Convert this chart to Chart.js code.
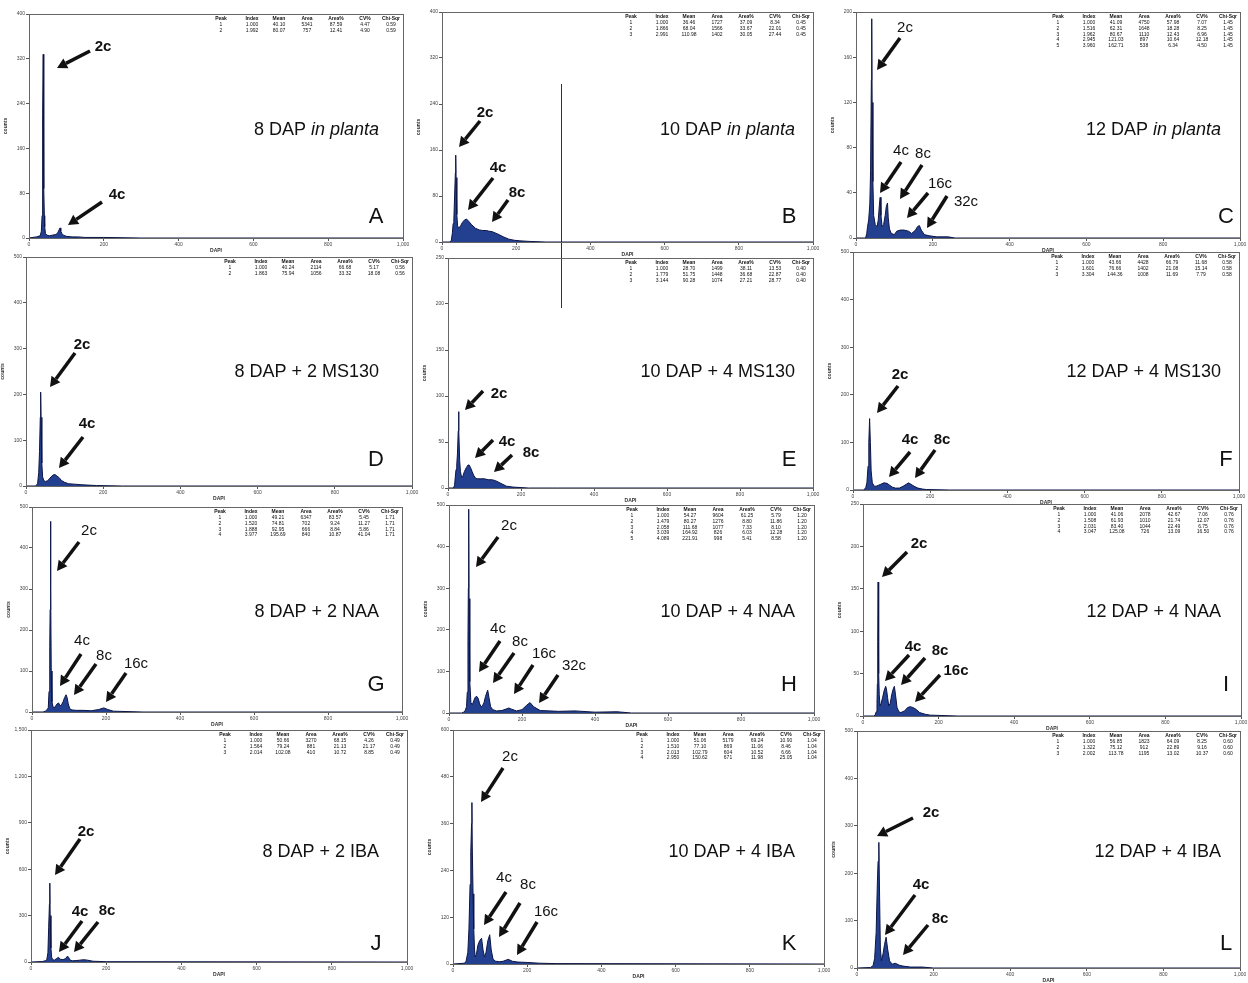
<!DOCTYPE html>
<html>
<head>
<meta charset="utf-8">
<script src="https://cdn.jsdelivr.net/npm/chart.js@4/dist/chart.umd.min.js"></script>
<style>
  html, body { margin: 0; padding: 0; background: #fff; width: 1248px; height: 983px; overflow: hidden; }
  canvas { position: absolute; }
  #stray { position: absolute; left: 561px; top: 84px; width: 1px; height: 224px; background: #333; }
</style>
</head>
<body>
<div id="stray"></div>
<script>
// Datos (DAPI = canal, counts = núcleos)
const dapiA = [0, 20, 30, 33, 35, 36, 37, 38, 39, 40, 41, 42, 44, 48, 55, 62, 70, 76, 80, 83, 85, 88, 92, 100, 115, 130, 150, 200, 300, 500, 1000]
const countsA = [0, 2, 4, 12, 40, 152, 220, 328, 240, 88, 40, 20, 8, 5, 4, 5, 6, 8, 14, 18, 12, 8, 5, 3, 2, 2, 1, 1, 0, 0, 0]

const dapiB = [0, 20, 25, 28, 30, 32, 34, 36, 37, 38, 40, 42, 45, 50, 55, 60, 66, 72, 80, 90, 100, 110, 120, 125, 135, 150, 165, 180, 195, 210, 237, 280, 400, 1000]
const countsB = [0, 0, 2, 16, 32, 40, 80, 120, 151, 112, 48, 28, 24, 28, 34, 38, 40, 36, 30, 24, 21, 20, 20, 19, 18, 14, 9, 5, 3, 2, 1, 0, 0, 0]

const dapiC = [0, 25, 28, 30, 33, 36, 38, 40, 41, 42, 44, 46, 50, 55, 58, 61, 63, 65, 68, 72, 76, 79, 82, 84, 87, 92, 100, 106, 115, 125, 137, 145, 155, 160, 165, 170, 178, 190, 210, 240, 258, 300, 1000]
const countsC = [0, 0, 4, 10, 16, 30, 60, 140, 194, 120, 50, 20, 12, 10, 16, 30, 36, 20, 10, 12, 20, 28, 31, 18, 8, 4, 3, 6, 7, 7, 6, 4, 7, 10, 11, 7, 3, 2, 1, 1, 0, 0, 0]

const dapiD = [0, 25, 30, 33, 35, 37, 38, 39, 41, 43, 46, 50, 55, 60, 65, 70, 75, 80, 86, 92, 100, 110, 125, 140, 160, 183, 250, 1000]
const countsD = [0, 0, 5, 30, 75, 150, 205, 150, 50, 20, 12, 10, 11, 15, 20, 24, 25, 22, 18, 12, 8, 5, 4, 3, 2, 1, 0, 0]

const dapiE = [0, 15, 18, 20, 22, 24, 26, 28, 29, 30, 32, 34, 37, 40, 45, 50, 55, 58, 62, 66, 70, 75, 80, 90, 100, 110, 120, 130, 140, 150, 160, 178, 220, 300, 1000]
const countsE = [0, 0, 3, 12, 20, 25, 38, 62, 83, 62, 30, 18, 12, 12, 18, 22, 25, 25, 22, 18, 14, 11, 10, 10, 10, 9, 9, 8, 6, 4, 2, 1, 0, 0, 0]

const dapiF = [0, 28, 33, 36, 39, 41, 43, 45, 47, 50, 55, 60, 66, 72, 80, 88, 95, 102, 110, 120, 130, 138, 144, 150, 158, 168, 180, 190, 250, 1000]
const countsF = [0, 0, 5, 15, 50, 100, 150, 100, 40, 15, 8, 8, 10, 12, 15, 14, 10, 6, 4, 4, 8, 12, 15, 12, 8, 4, 2, 1, 0, 0]

const dapiG = [0, 30, 36, 40, 44, 46, 48, 49, 50, 51, 52, 54, 57, 60, 64, 68, 72, 76, 80, 84, 88, 92, 95, 98, 102, 108, 120, 140, 160, 180, 194, 205, 220, 300, 1000]
const countsG = [0, 0, 2, 5, 10, 50, 160, 250, 465, 300, 100, 25, 12, 10, 15, 20, 22, 15, 18, 25, 35, 42, 35, 20, 8, 5, 4, 4, 3, 6, 10, 6, 2, 0, 0]

const dapiH = [0, 35, 40, 44, 48, 50, 52, 53, 54, 55, 57, 60, 64, 68, 72, 76, 80, 84, 88, 92, 96, 100, 106, 110, 114, 120, 130, 145, 158, 164, 172, 185, 200, 212, 222, 232, 250, 300, 345, 400, 460, 500, 1000]
const countsH = [0, 0, 2, 5, 15, 50, 175, 300, 490, 275, 75, 25, 20, 30, 38, 40, 35, 22, 15, 18, 25, 40, 55, 35, 15, 8, 5, 6, 10, 12, 9, 5, 8, 18, 25, 15, 6, 4, 5, 2, 3, 0, 0]

const dapiI = [0, 28, 32, 35, 37, 38, 39, 40, 41, 42, 43, 45, 48, 52, 56, 60, 62, 65, 68, 72, 76, 80, 83, 86, 90, 95, 100, 110, 118, 125, 132, 140, 150, 165, 178, 250, 1000]
const countsI = [0, 0, 1, 5, 15, 38, 88, 158, 100, 50, 25, 12, 15, 22, 30, 35, 32, 22, 12, 15, 25, 32, 35, 25, 10, 5, 4, 6, 10, 11, 10, 8, 4, 2, 1, 0, 0]

const dapiJ = [0, 30, 38, 42, 45, 47, 49, 50, 51, 53, 55, 58, 62, 68, 73, 78, 85, 92, 97, 100, 104, 110, 120, 130, 140, 150, 165, 200, 1000]
const countsJ = [0, 3, 8, 15, 60, 225, 375, 510, 300, 90, 30, 15, 12, 22, 30, 18, 15, 22, 38, 30, 12, 8, 9, 12, 15, 12, 5, 2, 0]

const dapiK = [0, 30, 35, 40, 43, 46, 48, 50, 51, 52, 54, 56, 58, 60, 63, 67, 72, 77, 81, 85, 89, 94, 99, 103, 108, 115, 125, 135, 149, 160, 175, 200, 234, 280, 1000]
const countsK = [0, 2, 6, 30, 90, 204, 288, 360, 414, 300, 180, 90, 36, 18, 24, 48, 60, 66, 36, 18, 30, 60, 75, 36, 12, 7, 6, 7, 12, 7, 5, 4, 2, 1, 0]

const dapiL = [0, 35, 42, 46, 50, 53, 55, 57, 59, 61, 64, 68, 72, 76, 80, 85, 92, 100, 110, 120, 140, 170, 200, 1000]
const countsL = [0, 1, 5, 20, 75, 175, 225, 265, 150, 40, 15, 30, 50, 65, 40, 15, 8, 10, 6, 4, 2, 2, 0, 0]

const ticksX = [0, 200, 400, 600, 800, 1000]
const cabecera = ["Peak", "Index", "Mean", "Area", "Area%", "CV%", "Chi-Sqr"]

// Paneles: datos + decoración (posiciones en píxeles de la página)
const paneles = [
  { id: "A", x: dapiA, y: countsA, ymax: 400, step: 80, box: [29, 14, 403, 238], titulo: ["8 DAP ", "in planta"], fila: 0, col: 0, bold: true,
    flechas: [["2c", 103, 47, 90, 51, 57, 68], ["4c", 117, 195, 102, 202, 68, 225]],
    tabla: [["1", "1.000", "40.10", "5341", "87.59", "4.47", "0.59"], ["2", "1.992", "80.07", "757", "12.41", "4.90", "0.59"]] },
  { id: "B", x: dapiB, y: countsB, ymax: 400, step: 80, box: [442, 12, 813, 242], titulo: ["10 DAP ", "in planta"], fila: 0, col: 1, bold: true,
    flechas: [["2c", 485, 113, 480, 121, 459, 147], ["4c", 498, 168, 493, 178, 468, 210], ["8c", 517, 193, 508, 200, 492, 222]],
    tabla: [["1", "1.000", "36.46", "1727", "37.09", "8.34", "0.45"], ["2", "1.866", "68.04", "1566", "33.67", "22.01", "0.45"], ["3", "2.991", "110.98", "1402", "30.05", "27.44", "0.45"]] },
  { id: "C", x: dapiC, y: countsC, ymax: 200, step: 40, box: [856, 12, 1240, 238], titulo: ["12 DAP ", "in planta"], fila: 0, col: 2, bold: false,
    flechas: [["2c", 905, 28, 900, 38, 877, 70], ["4c", 901, 151, 901, 162, 880, 193], ["8c", 923, 154, 922, 165, 900, 199], ["16c", 940, 184, 928, 193, 907, 218], ["32c", 966, 202, 947, 196, 927, 228]],
    tabla: [["1", "1.000", "41.09", "4750", "57.98", "7.07", "1.45"], ["2", "1.516", "62.31", "1648", "18.28", "8.25", "1.45"], ["3", "1.962", "80.67", "1110", "12.43", "6.96", "1.45"], ["4", "2.945", "121.03", "897", "10.64", "12.18", "1.45"], ["5", "3.960", "162.71", "538", "6.34", "4.50", "1.45"]] },
  { id: "D", x: dapiD, y: countsD, ymax: 500, step: 100, box: [26, 257, 412, 486], titulo: ["8 DAP + 2 MS130"], fila: 1, col: 0, bold: true,
    flechas: [["2c", 82, 345, 75, 353, 50, 387], ["4c", 87, 424, 83, 437, 59, 468]],
    tabla: [["1", "1.000", "40.24", "2114", "66.68", "5.17", "0.56"], ["2", "1.863", "75.94", "1056", "33.32", "18.08", "0.56"]] },
  { id: "E", x: dapiE, y: countsE, ymax: 250, step: 50, box: [448, 258, 813, 488], titulo: ["10 DAP + 4 MS130"], fila: 1, col: 1, bold: true,
    flechas: [["2c", 499, 394, 483, 391, 465, 410], ["4c", 507, 442, 493, 440, 475, 458], ["8c", 531, 453, 512, 455, 494, 472]],
    tabla: [["1", "1.000", "28.70", "1499", "38.11", "13.53", "0.40"], ["2", "1.779", "51.75", "1448", "36.68", "22.87", "0.40"], ["3", "3.144", "90.28", "1074", "27.21", "28.77", "0.40"]] },
  { id: "F", x: dapiF, y: countsF, ymax: 500, step: 100, box: [853, 252, 1239, 490], titulo: ["12 DAP + 4 MS130"], fila: 1, col: 2, bold: true,
    flechas: [["2c", 900, 375, 898, 386, 877, 413], ["4c", 910, 440, 910, 452, 889, 477], ["8c", 942, 440, 935, 450, 915, 478]],
    tabla: [["1", "1.000", "43.66", "4428", "66.79", "11.68", "0.58"], ["2", "1.601", "76.66", "1402", "21.08", "15.14", "0.58"], ["3", "3.304", "144.36", "1008", "11.69", "7.79", "0.58"]] },
  { id: "G", x: dapiG, y: countsG, ymax: 500, step: 100, box: [32, 507, 402, 712], titulo: ["8 DAP + 2 NAA"], fila: 2, col: 0, bold: false,
    flechas: [["2c", 89, 531, 79, 542, 57, 571], ["4c", 82, 641, 81, 654, 60, 686], ["8c", 104, 656, 96, 664, 74, 695], ["16c", 136, 664, 126, 673, 106, 702]],
    tabla: [["1", "1.000", "49.21", "6347", "83.57", "5.45", "1.71"], ["2", "1.520", "74.81", "702", "9.24", "11.27", "1.71"], ["3", "1.888", "92.95", "666", "8.84", "5.86", "1.71"], ["4", "3.977", "195.69", "840", "10.87", "41.04", "1.71"]] },
  { id: "H", x: dapiH, y: countsH, ymax: 500, step: 100, box: [449, 505, 814, 713], titulo: ["10 DAP + 4 NAA"], fila: 2, col: 1, bold: false,
    flechas: [["2c", 509, 526, 498, 537, 476, 567], ["4c", 498, 629, 500, 641, 479, 672], ["8c", 520, 642, 514, 653, 493, 683], ["16c", 544, 654, 533, 665, 514, 694], ["32c", 574, 666, 558, 675, 539, 703]],
    tabla: [["1", "1.000", "54.27", "9604", "61.25", "5.79", "1.20"], ["2", "1.479", "80.27", "1276", "8.80", "11.86", "1.20"], ["3", "2.058", "111.68", "1077", "7.33", "8.10", "1.20"], ["4", "3.039", "164.92", "826", "6.03", "12.28", "1.20"], ["5", "4.089", "221.91", "998", "5.41", "8.58", "1.20"]] },
  { id: "I", x: dapiI, y: countsI, ymax: 250, step: 50, box: [863, 504, 1241, 716], titulo: ["12 DAP + 4 NAA"], fila: 2, col: 2, bold: true,
    flechas: [["2c", 919, 544, 907, 552, 882, 577], ["4c", 913, 647, 909, 655, 885, 681], ["8c", 940, 651, 925, 658, 901, 685], ["16c", 956, 671, 940, 675, 915, 702]],
    tabla: [["1", "1.000", "41.06", "2078", "42.67", "7.06", "0.76"], ["2", "1.508", "61.93", "1010", "21.74", "12.07", "0.76"], ["3", "2.031", "83.40", "1044", "22.49", "6.75", "0.76"], ["4", "3.047", "125.08", "726", "13.09", "16.50", "0.76"]] },
  { id: "J", x: dapiJ, y: countsJ, ymax: 1500, step: 300, box: [31, 730, 407, 962], titulo: ["8 DAP + 2 IBA"], fila: 3, col: 0, bold: true,
    flechas: [["2c", 86, 832, 80, 839, 55, 875], ["4c", 80, 912, 82, 921, 59, 952], ["8c", 107, 911, 98, 922, 74, 952]],
    tabla: [["1", "1.000", "50.66", "3270", "68.15", "4.26", "0.49"], ["2", "1.564", "79.24", "881", "21.13", "21.17", "0.49"], ["3", "2.014", "102.08", "410", "10.72", "8.85", "0.49"]] },
  { id: "K", x: dapiK, y: countsK, ymax: 600, step: 120, box: [453, 730, 824, 964], titulo: ["10 DAP + 4 IBA"], fila: 3, col: 1, bold: false,
    flechas: [["2c", 510, 757, 503, 768, 481, 802], ["4c", 504, 878, 506, 892, 484, 925], ["8c", 528, 885, 520, 903, 499, 937], ["16c", 546, 912, 537, 922, 517, 955]],
    tabla: [["1", "1.000", "51.06", "5179", "69.24", "10.90", "1.04"], ["2", "1.510", "77.10", "869", "11.06", "8.46", "1.04"], ["3", "2.013", "102.79", "604", "10.52", "6.66", "1.04"], ["4", "2.950", "150.62", "671", "11.98", "25.05", "1.04"]] },
  { id: "L", x: dapiL, y: countsL, ymax: 500, step: 100, box: [857, 731, 1240, 968], titulo: ["12 DAP + 4 IBA"], fila: 3, col: 2, bold: true,
    flechas: [["2c", 931, 813, 913, 818, 877, 836], ["4c", 921, 885, 915, 895, 885, 935], ["8c", 940, 919, 928, 925, 903, 955]],
    tabla: [["1", "1.000", "56.85", "1823", "64.09", "8.25", "0.60"], ["2", "1.322", "75.12", "912", "22.89", "9.16", "0.60"], ["3", "2.002", "113.78", "1195", "13.02", "10.37", "0.60"]] }
]

const tituloDerecha = [379, 795, 1221]
const tituloY = [130, 372, 612, 852]
const letraX = [376, 789, 1226]
const letraY = [217, 460, 685, 944]

// Funciones
function dibujarFlecha(ctx, tx, ty, hx, hy) {
  const ang = Math.atan2(hy - ty, hx - tx)
  const largo = 10
  const bx = hx - largo * Math.cos(ang)
  const by = hy - largo * Math.sin(ang)
  ctx.lineWidth = 3.5
  ctx.beginPath()
  ctx.moveTo(tx, ty)
  ctx.lineTo(bx, by)
  ctx.stroke()
  ctx.beginPath()
  ctx.moveTo(hx, hy)
  ctx.lineTo(bx + 5.5 * Math.sin(ang), by - 5.5 * Math.cos(ang))
  ctx.lineTo(bx - 5.5 * Math.sin(ang), by + 5.5 * Math.cos(ang))
  ctx.closePath()
  ctx.fill()
}

const decoracion = {
  id: "decoracion",
  afterDraw(chart) {
    const p = chart.options.plugins.decoracion.panel
    const off = chart.options.plugins.decoracion.offset
    const ctx = chart.ctx
    const area = chart.chartArea
    ctx.save()
    // marco del gráfico
    ctx.strokeStyle = "#666"
    ctx.lineWidth = 1
    ctx.strokeRect(area.left + 0.5, area.top + 0.5, area.right - area.left, area.bottom - area.top)
    ctx.translate(-off[0], -off[1])
    ctx.fillStyle = "#111"
    ctx.strokeStyle = "#111"

    // tabla de picos
    const t0 = p.box[2] - 186
    const colX = [4, 35, 62, 90, 119, 148, 174]
    ctx.font = "bold 5px 'Liberation Sans', Arial, sans-serif"
    ctx.textAlign = "center"
    ctx.textBaseline = "middle"
    cabecera.forEach((h, i) => ctx.fillText(h, t0 + colX[i], p.box[1] + 5))
    ctx.font = "5px 'Liberation Sans', Arial, sans-serif"
    p.tabla.forEach((fila, r) => {
      fila.forEach((v, i) => ctx.fillText(v, t0 + colX[i], p.box[1] + 11 + r * 5.6))
    })

    // título
    ctx.textBaseline = "middle"
    ctx.textAlign = "left"
    const normal = "18px 'Liberation Sans', Arial, sans-serif"
    const italica = "italic 18px 'Liberation Sans', Arial, sans-serif"
    ctx.font = normal
    const w1 = ctx.measureText(p.titulo[0]).width
    let w2 = 0
    if (p.titulo[1]) {
      ctx.font = italica
      w2 = ctx.measureText(p.titulo[1]).width
    }
    const x0 = tituloDerecha[p.col] - w1 - w2
    ctx.font = normal
    ctx.fillText(p.titulo[0], x0, tituloY[p.fila])
    if (p.titulo[1]) {
      ctx.font = italica
      ctx.fillText(p.titulo[1], x0 + w1, tituloY[p.fila])
    }

    // letra del panel
    ctx.font = "22px 'Liberation Sans', Arial, sans-serif"
    ctx.textAlign = "center"
    ctx.fillText(p.id, letraX[p.col], letraY[p.fila])

    // flechas y etiquetas de ploidía
    ctx.font = (p.bold ? "bold " : "") + "15px 'Liberation Sans', Arial, sans-serif"
    for (const f of p.flechas) {
      ctx.fillText(f[0], f[1], f[2])
      dibujarFlecha(ctx, f[3], f[4], f[5], f[6])
    }
    ctx.restore()
  }
}

function crearPanel(p) {
  const [L, T, R, B] = p.box
  const yW = 26, xH = 16, padT = 4, padR = 8
  const canvas = document.createElement("canvas")
  const left = L - yW, top = T - padT
  const w = R - L + yW + padR, h = B - T + padT + xH
  canvas.width = w
  canvas.height = h
  canvas.style.left = left + "px"
  canvas.style.top = top + "px"
  canvas.style.width = w + "px"
  canvas.style.height = h + "px"
  document.body.appendChild(canvas)

  const fuente = { size: 5, family: "'Liberation Sans', Arial, sans-serif" }
  return new Chart(canvas.getContext("2d"), {
    type: "line",
    data: {
      datasets: [{
        data: p.x.map((x, i) => ({ x: x, y: p.y[i] })),
        borderColor: "#0c1545",
        backgroundColor: "#22408f",
        borderWidth: 1,
        pointRadius: 0,
        tension: 0,
        fill: "origin"
      }]
    },
    options: {
      responsive: false,
      animation: false,
      devicePixelRatio: 1,
      layout: { padding: { top: padT, right: padR, left: 0, bottom: 0 } },
      plugins: {
        legend: { display: false },
        tooltip: { enabled: false },
        decoracion: { panel: p, offset: [left, top] }
      },
      scales: {
        x: {
          type: "linear", min: 0, max: 1000,
          afterFit: s => { s.height = xH },
          afterBuildTicks: s => { s.ticks = ticksX.map(v => ({ value: v })) },
          ticks: { font: fuente, color: "#444", padding: 1, maxRotation: 0 },
          grid: { drawOnChartArea: false, tickLength: 3, color: "#555" },
          border: { color: "#555" },
          title: { display: true, text: "DAPI", font: { size: 5, weight: "bold" }, color: "#333", padding: 0 }
        },
        y: {
          min: 0, max: p.ymax,
          afterFit: s => { s.width = yW },
          ticks: { stepSize: p.step, font: fuente, color: "#444", padding: 1 },
          grid: { drawOnChartArea: false, tickLength: 3, color: "#555" },
          border: { color: "#555" },
          title: { display: true, text: "counts", font: { size: 5, weight: "bold" }, color: "#333", padding: 0 }
        }
      }
    },
    plugins: [decoracion]
  })
}

paneles.forEach(p => crearPanel(p))
</script>
</body>
</html>
